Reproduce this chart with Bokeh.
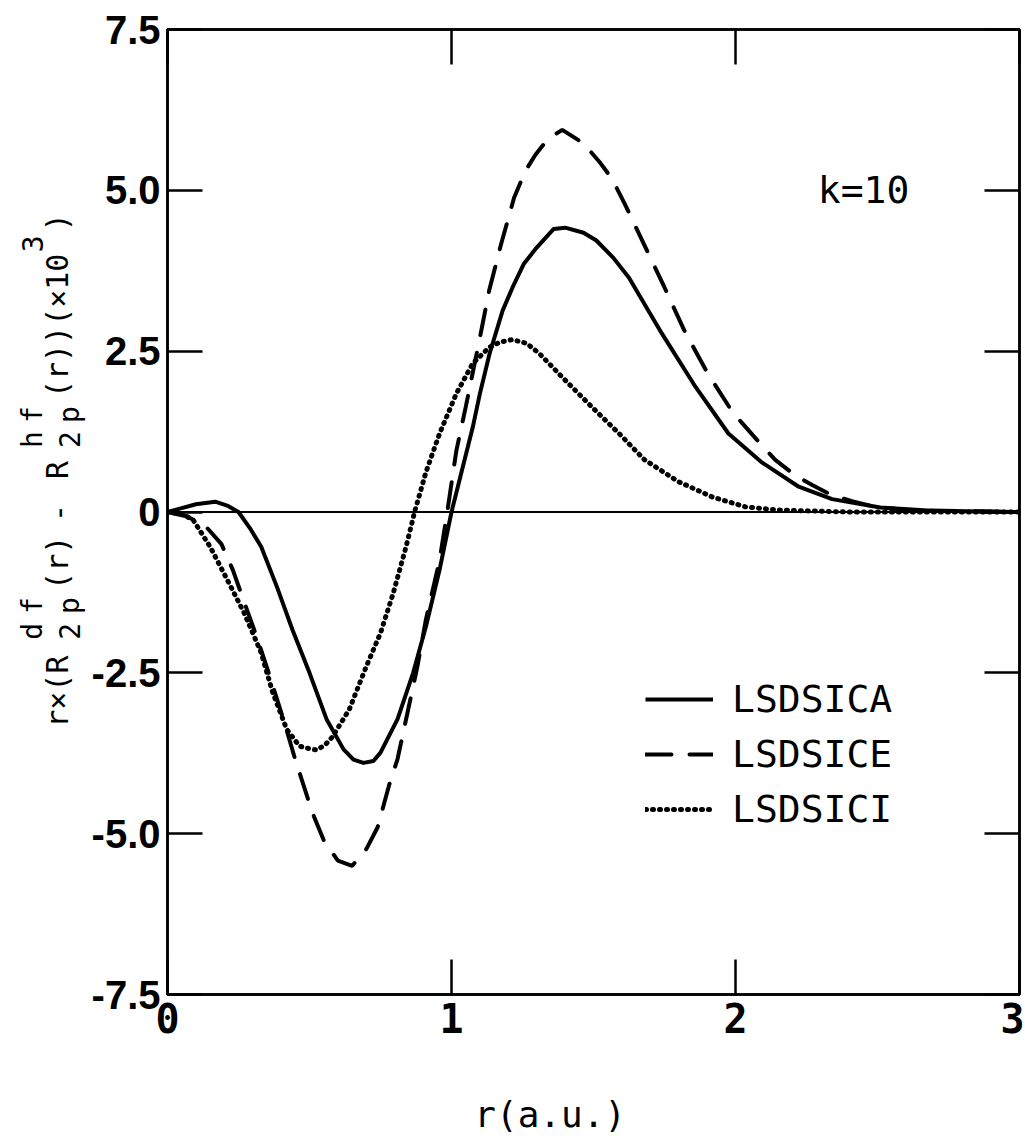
import math
from bokeh.plotting import figure
from bokeh.layouts import row
from bokeh.models import (Range1d, LinearAxis, FixedTicker, Span, Label,
                          Legend, LegendItem, CustomLabelingPolicy)
from bokeh.embed import file_html
from bokeh.resources import INLINE

# ---------------- data ----------------
r_ca = [0.00, 0.05, 0.10, 0.168, 0.21, 0.25, 0.29, 0.33, 0.385, 0.44, 0.50,
        0.56, 0.62, 0.655, 0.69, 0.725, 0.75, 0.81, 0.865, 0.91, 0.958, 1.00,
        1.075, 1.10, 1.134, 1.18, 1.215, 1.255, 1.30, 1.36, 1.40, 1.465, 1.51,
        1.57, 1.625, 1.74, 1.86, 1.975, 2.09, 2.22, 2.34, 2.51, 2.69, 3.00]
v_ca = [0.00, 0.06, 0.12, 0.16, 0.10, 0.00, -0.25, -0.54, -1.16, -1.83, -2.50,
        -3.22, -3.69, -3.85, -3.90, -3.87, -3.74, -3.22, -2.50, -1.78, -0.90, 0.00,
        1.32, 1.84, 2.46, 3.13, 3.49, 3.86, 4.11, 4.40, 4.42, 4.34, 4.22,
        3.95, 3.64, 2.78, 1.94, 1.22, 0.78, 0.40, 0.20, 0.07, 0.02, 0.00]

r_ce = [0.00, 0.07, 0.14, 0.19, 0.23, 0.27, 0.315, 0.36, 0.41, 0.45, 0.51,
        0.55, 0.60, 0.65, 0.70, 0.74, 0.78, 0.81, 0.845, 0.88, 0.91, 0.958,
        0.985, 1.017, 1.05, 1.10, 1.133, 1.175, 1.22, 1.26, 1.295, 1.34, 1.39,
        1.465, 1.525, 1.565, 1.61, 1.68, 1.75, 1.82, 1.90, 1.99, 2.09, 2.14,
        2.21, 2.27, 2.34, 2.41, 2.49, 2.60, 3.00]
v_ce = [0.00, -0.07, -0.25, -0.50, -0.90, -1.40, -1.95, -2.55, -3.25, -3.85, -4.67,
        -5.10, -5.42, -5.50, -5.24, -4.90, -4.25, -3.84, -3.12, -2.40, -1.67, -0.75,
        0.00, 0.95, 1.63, 2.71, 3.45, 4.17, 4.88, 5.30, 5.55, 5.80, 5.94,
        5.73, 5.42, 5.18, 4.79, 4.14, 3.49, 2.82, 2.17, 1.55, 1.05, 0.81,
        0.57, 0.42, 0.26, 0.17, 0.08, 0.03, 0.00]

r_ci = [0.00, 0.05, 0.09, 0.15, 0.21, 0.27, 0.33, 0.37, 0.42, 0.465, 0.49,
        0.525, 0.555, 0.58, 0.64, 0.70, 0.75, 0.795, 0.84, 0.87, 0.91, 0.958,
        1.017, 1.075, 1.133, 1.17, 1.215, 1.265, 1.31, 1.40, 1.495, 1.59, 1.68,
        1.80, 1.92, 2.035, 2.15, 2.40, 3.00]
v_ci = [0.00, -0.03, -0.12, -0.54, -1.05, -1.57, -2.19, -2.80, -3.38, -3.64, -3.67,
        -3.70, -3.62, -3.50, -3.07, -2.40, -1.88, -1.26, -0.54, 0.00, 0.62, 1.22,
        1.84, 2.31, 2.56, 2.64, 2.68, 2.62, 2.46, 2.05, 1.63, 1.22, 0.81,
        0.47, 0.23, 0.08, 0.03, 0.00, 0.00]

series_names = ["LSDSICA", "LSDSICE", "LSDSICI"]
x_ticks = [0, 1, 2, 3]
y_ticks = [-7.5, -5.0, -2.5, 0.0, 2.5, 5.0, 7.5]
y_tick_labels = ["-7.5", "-5.0", "-2.5", "0", "2.5", "5.0", "7.5"]
annotation_text = "k=10"
x_title = "r(a.u.)"

# ---------------- layout constants ----------------
TOTAL_W, H = 1024, 1137
LEFT_W = 87                      # narrow figure holding the rotated y title
W = TOTAL_W - LEFT_W
FRAME_LEFT, FRAME_TOP, FRAME_RIGHT, FRAME_BOTTOM = 167, 29, 1019, 995

p = figure(width=W, height=H, output_backend="svg", toolbar_location=None,
           x_range=Range1d(0, 3), y_range=Range1d(-7.5, 7.5),
           min_border_left=FRAME_LEFT - LEFT_W,
           min_border_right=TOTAL_W - FRAME_RIGHT,
           min_border_top=FRAME_TOP, min_border_bottom=H - FRAME_BOTTOM)
p.xgrid.grid_line_color = None
p.ygrid.grid_line_color = None
p.outline_line_color = "black"
p.outline_line_width = 2.5
p.background_fill_color = "white"
p.border_fill_color = "white"

TICK_IN = 35
hide_labels = CustomLabelingPolicy(code="for (const i of indices) indices.unset(i); return indices")

def style_axis(ax, ticks, show_labels):
    ax.ticker = FixedTicker(ticks=ticks)
    ax.major_tick_in = TICK_IN
    ax.major_tick_out = 0
    ax.major_tick_line_width = 2.5
    ax.major_tick_line_color = "black"
    ax.minor_tick_line_color = None
    ax.axis_line_width = 2.5
    ax.axis_line_color = "black"
    if not show_labels:
        ax.major_label_overrides = {t: "" for t in ticks}
        ax.major_label_policy = hide_labels
        ax.major_label_text_font_size = "1px"
        ax.major_label_standoff = 0

# bottom axis
xa = p.xaxis[0]
style_axis(xa, x_ticks, True)
xa.major_label_text_font = "DejaVu Sans Mono"
xa.major_label_text_font_style = "bold"
xa.major_label_text_font_size = "40px"
xa.major_label_text_color = "black"
xa.major_label_standoff = 8
xa.axis_label = x_title + "\u00a0" * 4
xa.axis_label_text_font = "DejaVu Sans Mono"
xa.axis_label_text_font_style = "normal"
xa.axis_label_text_font_size = "36px"
xa.axis_label_text_color = "black"
xa.axis_label_standoff = 58

# left axis
ya = p.yaxis[0]
style_axis(ya, y_ticks, True)
ya.major_label_overrides = {t: s for t, s in zip(y_ticks, y_tick_labels)}
ya.major_label_text_font = "Liberation Sans"
ya.major_label_text_font_style = "bold"
ya.major_label_text_font_size = "40px"
ya.major_label_text_color = "black"
ya.major_label_standoff = 7

# top & right axes (ticks only)
top = LinearAxis()
style_axis(top, x_ticks, False)
p.add_layout(top, "above")
right = LinearAxis()
style_axis(right, y_ticks, False)
p.add_layout(right, "right")

# zero line
p.add_layout(Span(location=0, dimension="width", line_color="black", line_width=2))

# curves
l1 = p.line(r_ca, v_ca, line_color="black", line_width=4, line_join="round")
l2 = p.line(r_ce, v_ce, line_color="black", line_width=4, line_dash="26 18",
            line_cap="round")
l3 = p.line(r_ci, v_ci, line_color="black", line_width=5, line_dash="1 6",
            line_cap="round")

legend = Legend(items=[LegendItem(label=n, renderers=[rr])
                       for n, rr in zip(series_names, [l1, l2, l3])],
                location=(478, 163), orientation="vertical")
legend.glyph_width = 68
legend.glyph_height = 40
legend.label_height = 40
legend.label_standoff = 19
legend.spacing = 11
legend.padding = 0
legend.margin = 0
legend.border_line_color = None
legend.background_fill_alpha = 0
legend.label_text_font = "DejaVu Sans Mono"
legend.label_text_font_size = "38px"
legend.label_text_color = "black"
p.add_layout(legend)

# k=10 annotation
p.add_layout(Label(x=2.29, y=5.0, text=annotation_text, text_align="left",
                   text_baseline="middle", text_font="DejaVu Sans Mono",
                   text_font_size="38px", text_color="black"))

# ---------------- rotated y title, in its own narrow figure ----------------
# its frame is aligned with the main frame (rows align frames), so the y range
# runs in page pixels from the frame bottom to the frame top
lf = figure(width=LEFT_W, height=H, output_backend="svg", toolbar_location=None,
            x_range=Range1d(0, LEFT_W), y_range=Range1d(FRAME_BOTTOM, FRAME_TOP),
            x_axis_location=None, y_axis_location=None, min_border=0,
            min_border_top=FRAME_TOP, min_border_bottom=H - FRAME_BOTTOM)
lf.xgrid.grid_line_color = None
lf.ygrid.grid_line_color = None
lf.outline_line_color = None
lf.background_fill_color = "white"
lf.border_fill_color = "white"

MAIN_X, SUB_X, SUP_X = 57, 69, 32
# (text, page y where the piece starts, page x of its baseline, font size)
ytitle_pieces = [
    ("r\u00d7(R", 728, MAIN_X, 30),
    ("2", 640, SUB_X, 28), ("p", 614, SUB_X, 28),
    ("d", 640, SUP_X, 28), ("f", 614, SUP_X, 28),
    ("(r)", 590, MAIN_X, 30),
    ("-", 522, MAIN_X, 30),
    ("R", 479, MAIN_X, 30),
    ("2", 448, SUB_X, 28), ("p", 423, SUB_X, 28),
    ("h", 448, SUP_X, 28), ("f", 423, SUP_X, 28),
    ("(r))(\u00d710", 398, MAIN_X, 30),
    ("3", 252, SUP_X, 28),
    (")", 231, MAIN_X, 30),
]
for txt, py, px, fs in ytitle_pieces:
    lf.add_layout(Label(x=px, y=py, text=txt, angle=math.pi / 2,
                        text_align="left", text_baseline="alphabetic",
                        text_font="DejaVu Sans Mono", text_font_size=f"{fs}px",
                        text_color="black"))

layout = row(lf, p, spacing=0)
open("out.html", "w").write(file_html(layout, INLINE))
